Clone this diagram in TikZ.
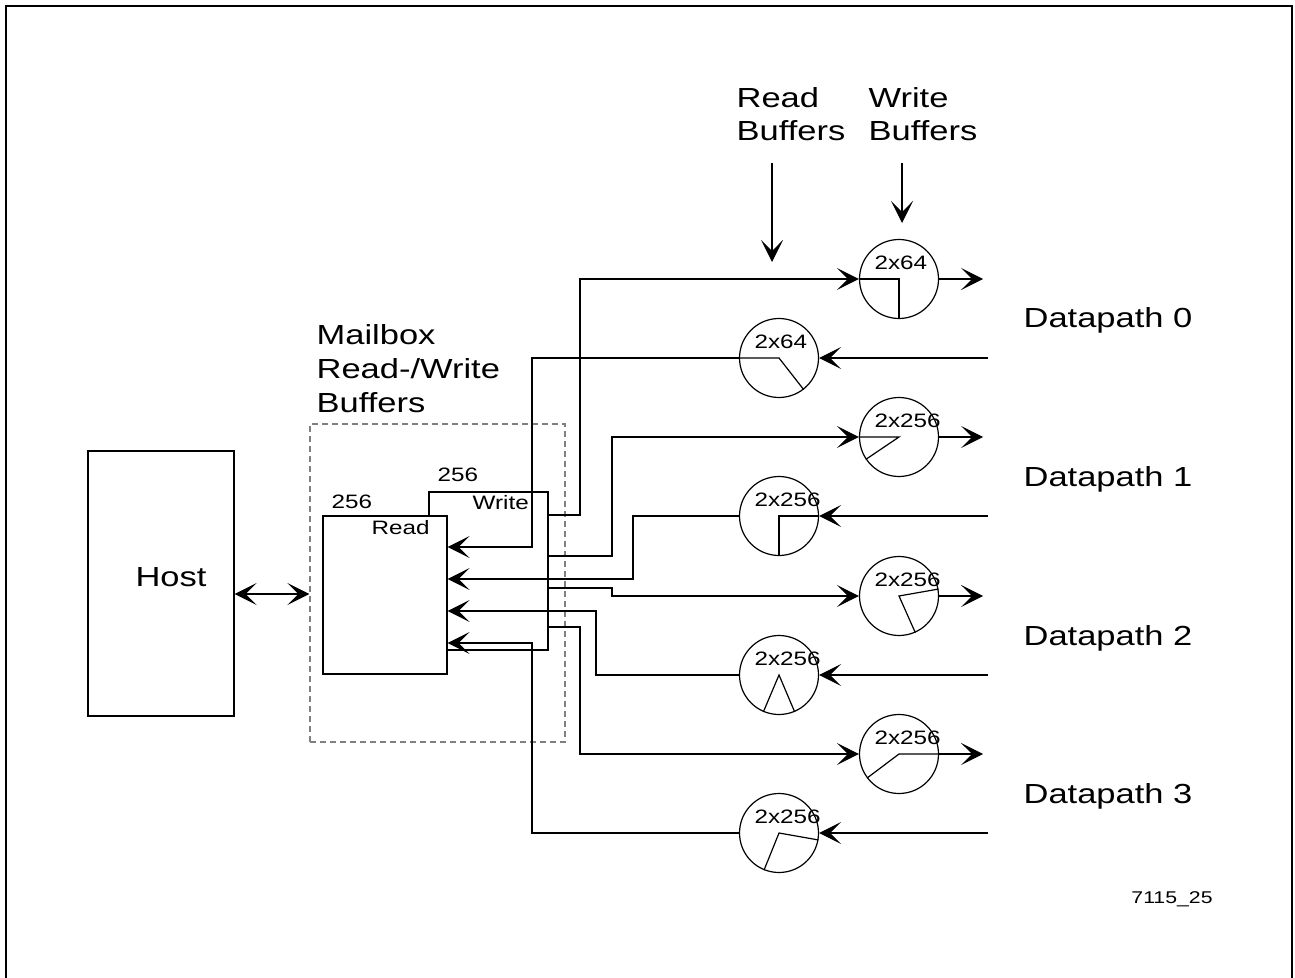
\documentclass[tikz,border=0pt]{standalone}
\usepackage{fontspec}
\setmainfont{Liberation Sans}[FakeStretch=1.25]
\usetikzlibrary{arrows.meta, calc, positioning}

\tikzset{
  big/.style={font=\fontsize{13.8}{17}\selectfont, inner sep=0pt},
  small/.style={font=\fontsize{9.7}{11}\selectfont, inner sep=0pt},
  box/.style={draw, rectangle, inner sep=0pt},
  buf/.style={draw, circle, minimum size=39.5pt, inner sep=0pt},
  arr/.style={-{Stealth[length=11pt, width=11pt, inset=5.5pt]}},
  dbl/.style={{Stealth[length=11pt, width=11pt, inset=5.5pt]}-{Stealth[length=11pt, width=11pt, inset=5.5pt]}}
}

\begin{document}
\begin{tikzpicture}[x=0.5pt, y=-0.5pt, line width=0.6pt]
  \useasboundingbox (0,0) rectangle (1295,978);
  \draw[line width=1pt] (6,6) rectangle (1292,990);

  % host and mailbox
  \node[box, minimum width=73pt, minimum height=132.5pt] (host) at (161,583.5) {};
  \node[big] (hostname) at (171,577) {Host};
  \node[box, draw=gray, dash pattern=on 3pt off 2pt, minimum width=127.5pt, minimum height=159pt] (mbox) at (437.5,583) {};
  \node[big, align=left, anchor=north west] (mblabel) at (316,324) {Mailbox\\Read-/Write\\Buffers};

  \node[box, minimum width=59.5pt, minimum height=79pt] (wr) at (488.5,571) {};
  \node[box, fill=white, minimum width=62pt, minimum height=79pt] (rd) at (385,595) {};
  \node[small, anchor=base west] (rdsize) at (331,508) {256};
  \node[small, anchor=base west] (rdname) at (371,534) {Read};
  \node[small, anchor=base west] (wrsize) at (437,481) {256};
  \node[small, anchor=base west] (wrname) at (472,509) {Write};

  \coordinate (hostport) at ([yshift=-5.25pt]host.east);
  \draw[dbl] (hostport) -- (hostport -| mbox.west);

  % buffer columns
  \node[big, align=left, anchor=north west, font=\fontsize{13.8}{16.5}\selectfont] (rblabel) at (736,87) {Read\\Buffers};
  \node[big, align=left, anchor=north west, font=\fontsize{13.8}{16.5}\selectfont] (wblabel) at (868,87) {Write\\Buffers};
  \coordinate (rbtail) at (772,163);
  \coordinate (rbtip) at (772,262);
  \coordinate (wbtail) at (902,163);
  \coordinate (wbtip) at (902,223);
  \draw[arr] (rbtail) -- (rbtip);
  \draw[arr] (wbtail) -- (wbtip);

  \foreach \n/\x/\y/\s in {w0/899/279/2x64, r0/779/358/2x64, w1/899/437/2x256, r1/779/516/2x256,
                           w2/899/596/2x256, r2/779/675/2x256, w3/899/754/2x256, r3/779/833/2x256}
  {
    \node[buf] (\n) at (\x,\y) {};
    \node[small, anchor=west] (\n-size) at ([xshift=-12.5pt, yshift=8pt]\n.center) {\s};
  }

  % fill level hands
  \foreach \n/\a/\b in {w0/180/270, r0/180/308, w1/180/214, r1/0/270,
                        w2/10/294, r2/247/293, w3/0/217, r3/350/248}
    \draw (\n.\a) -- (\n.center) -- (\n.\b);

  % datapaths
  \foreach \i/\wy/\ry in {0/279/358, 1/437/516, 2/596/675, 3/754/833}
  {
    \coordinate (wout\i) at (983,\wy);
    \coordinate (rin\i) at (988,\ry);
    \draw[arr] (w\i) -- (wout\i);
    \draw[arr] (rin\i) -- (r\i);
    \pgfmathsetmacro\dpy{(\wy+\ry)/2+9.5}
    \node[big, anchor=base west] (dp\i) at (1023,\dpy) {Datapath \i};
  }

  % mailbox wiring
  \coordinate (wo0) at (wr.east |- 0,515);
  \coordinate (wo1) at (wr.east |- 0,556);
  \coordinate (wo2) at (wr.east |- 0,588);
  \coordinate (wo3) at (wr.east |- 0,627);
  \coordinate (ri0) at (rd.east |- 0,547);
  \coordinate (ri1) at (rd.east |- 0,579);
  \coordinate (ri2) at (rd.east |- 0,611);
  \coordinate (ri3) at (rd.east |- 0,643);

  \draw[arr] (wo0) -| (580,279) -- (w0);
  \draw[arr] (wo1) -| (612,437) -- (w1);
  \draw[arr] (wo2) -| (612,596) -- (w2);
  \draw[arr] (wo3) -| (580,754) -- (w3);
  \draw[arr] (r0) -| (532,547) -- (ri0);
  \draw[arr] (r1) -| (633,579) -- (ri1);
  \draw[arr] (r2) -| (596,611) -- (ri2);
  \draw[arr] (r3) -| (532,643) -- (ri3);

  \node[font=\fontsize{8.5}{10}\selectfont, inner sep=0pt] (figid) at (1172,899) {7115\_25};
\end{tikzpicture}
\end{document}
